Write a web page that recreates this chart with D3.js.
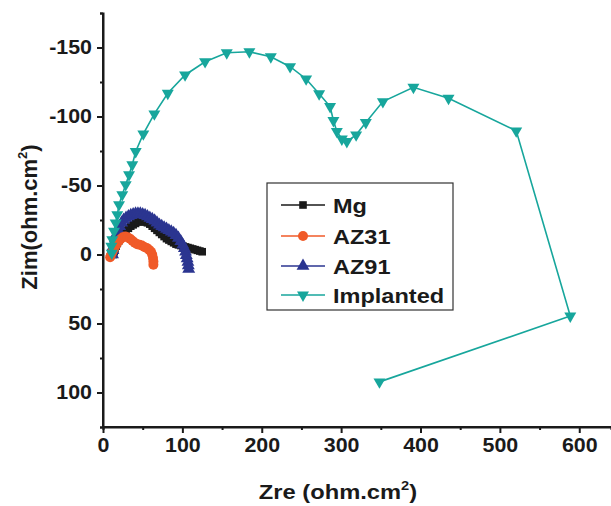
<!DOCTYPE html>
<html>
<head>
<meta charset="utf-8">
<script src="https://cdn.jsdelivr.net/npm/d3@7"></script>
<style>
  body { margin: 0; background: #fff; }
  text { font-family: "Liberation Sans", Arial, sans-serif; font-weight: bold; fill: #1a1a1a; }
</style>
</head>
<body>
<svg id="chart" width="611" height="506"></svg>
<script>
// 軸の目盛り
const xTicks = [0, 100, 200, 300, 400, 500, 600];
const xMinor = [50, 150, 250, 350, 450, 550];
const yTicks = [-150, -100, -50, 0, 50, 100];
const yMinor = [-175, -125, -75, -25, 25, 75, 125];

// 系列名
const seriesNames = ["Mg", "AZ31", "AZ91", "Implanted"];

// Mg
const mgZre = [13, 14, 15, 16.5, 18, 20, 22, 24, 26.5, 29, 32, 35, 38, 41, 44, 47, 50, 53, 56, 59, 62, 65, 68, 71, 74, 77, 80, 83, 86, 89, 92, 95, 98, 101, 104, 107, 110, 113, 116, 119, 122, 125];
const mgZim = [0, -2, -4, -6, -8, -10, -12, -14, -16, -17.5, -19, -20.5, -21.5, -22.5, -23.5, -24, -24, -23.5, -23, -22, -20.5, -19, -17.5, -16, -14.5, -13, -11.5, -10.5, -9.5, -8.5, -7.5, -7, -6.5, -6, -5.5, -5, -4.5, -4, -3.5, -3, -2.5, -2];

// AZ31
const az31Zre = [9, 10, 11.5, 13, 15, 17, 19.5, 22, 25, 28, 31, 34, 37, 40, 43, 46, 49, 52, 55, 58, 60.5, 62, 63, 63.5, 63.5];
const az31Zim = [2, 0.5, -1.5, -3.5, -5.5, -7.5, -9.5, -11, -12.5, -13, -12.5, -11.5, -10, -8.5, -7.5, -7, -6.5, -5.5, -4.8, -3.5, -2, 0, 2.5, 5, 7.5];

// AZ91
const az91Zre = [12, 12.5, 13, 14, 15.5, 17, 19, 21, 23.5, 26, 29, 32, 35, 38, 41, 44, 47, 50, 53, 56, 59, 62, 65, 68, 71, 74, 77, 80, 83, 86, 89, 92, 95, 98, 100.5, 102.5, 104, 105, 106, 107, 107.5, 108];
const az91Zim = [0, -3, -6, -9, -12, -15, -18, -20.5, -23, -25, -26.5, -27.5, -28.5, -29, -29.5, -29.5, -29.5, -29, -28.5, -27.5, -26.5, -25.5, -24.5, -23, -21.5, -20.5, -19.5, -18.5, -17.5, -16.5, -15.5, -14, -12, -9.5, -7, -4.5, -2, 0.5, 3, 5.5, 8, 10.5];

// Implanted
const impZre = [11, 10.5, 11.7, 13.9, 16, 18, 20.2, 24.3, 28.6, 32.8, 36.9, 41.2, 50.8, 64.7, 81.6, 103.4, 128.6, 155.9, 184.4, 211.4, 235.7, 255.9, 272.3, 286.1, 290.3, 294.6, 300.9, 307.2, 318.9, 331.1, 352.6, 391.1, 435.3, 520.6, 588.7, 348.3];
const impZim = [-1, -6, -10.8, -16.8, -22.9, -28.9, -36.1, -43.4, -50.6, -57.8, -65, -74.6, -87.4, -101.9, -116.8, -130.1, -139.7, -146.2, -146.9, -143.3, -136.1, -127.2, -116.5, -107.2, -97.1, -89.2, -83.7, -81.9, -86.7, -95.6, -110.8, -121.2, -113.2, -89.6, 44.6, 92.3];

/** 文字を横に伸ばす
 *
 * @param {*} sel テキストの選択
 * @param {number} factor 伸ばす倍率
 */
function stretch(sel, factor) {
    sel.each(function () {
        const len = this.getComputedTextLength();
        d3.select(this)
            .attr("textLength", len * factor)
            .attr("lengthAdjust", "spacingAndGlyphs");
    });
}

function main() {
    const svg = d3.select("#chart");

    const x = d3.scaleLinear().domain([0, 640]).range([103, 611]);
    const y = d3.scaleLinear().domain([-175, 125]).range([13, 427]);

    // 系列ごとの設定
    const series = [
        { name: "Mg", zre: mgZre, zim: mgZim, color: "#1a1a1a", symbol: d3.symbolSquare, size: 58, rotate: 0 },
        { name: "AZ91", zre: az91Zre, zim: az91Zim, color: "#2b3590", symbol: d3.symbolTriangle, size: 72, rotate: 0 },
        { name: "AZ31", zre: az31Zre, zim: az31Zim, color: "#f05a28", symbol: d3.symbolCircle, size: 78, rotate: 0 },
        { name: "Implanted", zre: impZre, zim: impZim, color: "#17a69c", symbol: d3.symbolTriangle, size: 62, rotate: 180 }
    ];

    const line = d3.line().x(d => x(d[0])).y(d => y(d[1]));

    // データの描画
    for (let s of series) {
        const pts = s.zre.map((v, i) => [v, s.zim[i]]);
        svg.append("path")
            .attr("d", line(pts))
            .attr("fill", "none")
            .attr("stroke", s.color)
            .attr("stroke-width", 1.6);
        svg.append("g").selectAll("path")
            .data(pts)
            .join("path")
            .attr("d", d3.symbol().type(s.symbol).size(s.size))
            .attr("transform", d => `translate(${x(d[0])},${y(d[1])}) rotate(${s.rotate})`)
            .attr("fill", s.color);
    }

    // 軸
    const xAxis = svg.append("g")
        .attr("transform", "translate(0,427)")
        .call(d3.axisBottom(x).tickValues(xTicks).tickSize(6).tickPadding(5).tickFormat(d => String(d)));
    svg.append("g")
        .attr("transform", "translate(0,427)")
        .call(d3.axisBottom(x).tickValues(xMinor).tickSize(3).tickFormat(""));
    const yAxis = svg.append("g")
        .attr("transform", "translate(103,0)")
        .call(d3.axisLeft(y).tickValues(yTicks).tickSize(6).tickPadding(5).tickFormat(d => String(d)));
    svg.append("g")
        .attr("transform", "translate(103,0)")
        .call(d3.axisLeft(y).tickValues(yMinor).tickSize(3).tickFormat(""));

    svg.selectAll(".domain").attr("stroke", "#1a1a1a").attr("stroke-width", 2);
    svg.selectAll(".tick line").attr("stroke", "#1a1a1a").attr("stroke-width", 2);
    svg.selectAll(".tick text").style("font-size", "20px").attr("fill", "#1a1a1a");
    stretch(svg.selectAll(".tick text"), 1.07);
    xAxis.select(".domain").attr("d", "M103,0H611");
    yAxis.select(".domain").attr("d", "M0,13V427");

    // 軸ラベル
    const xl = svg.append("g")
        .attr("transform", "translate(338,499) scale(1.13,1)")
        .append("text")
        .attr("text-anchor", "middle")
        .style("font-size", "21px");
    xl.append("tspan").text("Zre (ohm.cm");
    xl.append("tspan").attr("dy", -9).style("font-size", "13px").text("2");
    xl.append("tspan").attr("dy", 9).text(")");

    const yl = svg.append("g")
        .attr("transform", "translate(37,217) rotate(-90)")
        .append("text")
        .attr("text-anchor", "middle")
        .style("font-size", "22px");
    yl.append("tspan").text("Zim(ohm.cm");
    yl.append("tspan").attr("dy", -10).style("font-size", "13px").text("2");
    yl.append("tspan").attr("dy", 10).text(")");

    // 凡例
    const legend = svg.append("g");
    legend.append("rect")
        .attr("x", 267).attr("y", 183)
        .attr("width", 186).attr("height", 127)
        .attr("fill", "#fff")
        .attr("stroke", "#333").attr("stroke-width", 1.2);
    const legendY = [205, 236, 266, 295];
    seriesNames.forEach((name, i) => {
        const s = series.find(d => d.name == name);
        const ly = legendY[i];
        legend.append("line")
            .attr("x1", 281).attr("x2", 325)
            .attr("y1", ly).attr("y2", ly)
            .attr("stroke", s.color).attr("stroke-width", 1.6);
        legend.append("path")
            .attr("d", d3.symbol().type(s.symbol).size(s.size)())
            .attr("transform", `translate(303,${ly}) rotate(${s.rotate})`)
            .attr("fill", s.color);
        legend.append("text")
            .attr("x", 333).attr("y", ly + 7.5)
            .style("font-size", "21px")
            .text(name);
    });
    stretch(legend.selectAll("text"), 1.12);
}

main();
</script>
</body>
</html>
